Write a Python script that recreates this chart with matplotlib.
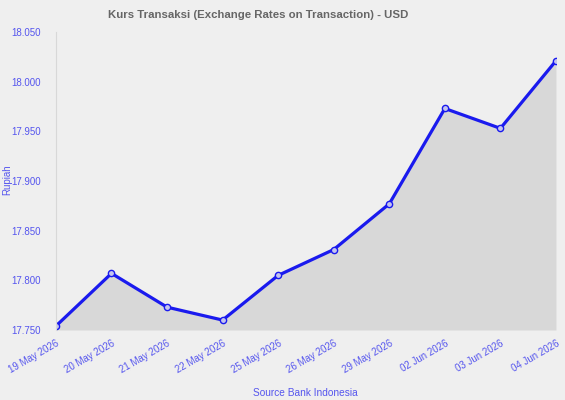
import numpy as np
import matplotlib.pyplot as plt
from matplotlib.ticker import FuncFormatter

plt.rcParams['font.family'] = ['Liberation Sans', 'DejaVu Sans']

# data
dates = ['19 May 2026', '20 May 2026', '21 May 2026', '22 May 2026', '25 May 2026',
         '26 May 2026', '29 May 2026', '02 Jun 2026', '03 Jun 2026', '04 Jun 2026']
rates = [17754, 17807, 17773, 17760, 17805, 17831, 17877, 17973, 17953, 18021]
yticks = [17750, 17800, 17850, 17900, 17950, 18000, 18050]

bg = '#efefef'
blue = '#1a1aee'
label_blue = '#5555ee'

fig = plt.figure(figsize=(5.65, 4.0), dpi=100, facecolor=bg)
ax = fig.add_axes([0.099, 0.175, 0.885, 0.745], facecolor=bg)

x = np.arange(len(dates))
ax.fill_between(x, rates, 17750, color='#d8d8d8', lw=0)
ax.plot(x, rates, color=blue, lw=2.3, marker='o', ms=4.5,
        mfc='#c4c4ee', mec=blue, mew=1)

ax.set_xlim(0, len(dates) - 1)
ax.set_ylim(17750, 18050)
ax.set_yticks(yticks)
ax.yaxis.set_major_formatter(FuncFormatter(lambda v, p: f'{int(v):,}'.replace(',', '.')))
ax.set_xticks(x)
ax.set_xticklabels(dates, rotation=30, ha='right', rotation_mode='anchor')
ax.tick_params(axis='both', length=0, labelsize=7, labelcolor=label_blue)
ax.tick_params(axis='x', pad=6)
ax.tick_params(axis='y', pad=11)

for s in ['top', 'right', 'bottom']:
    ax.spines[s].set_visible(False)
ax.spines['left'].set_color('#d8d8d8')

fig.text(0.457, 0.962, 'Kurs Transaksi (Exchange Rates on Transaction) - USD',
         color='#666666', fontsize=8.2, fontweight='bold', ha='center', va='center')
fig.text(0.012, 0.55, 'Rupiah', rotation=90, color=label_blue, fontsize=7,
         ha='center', va='center')
fig.text(0.54, 0.017, 'Source Bank Indonesia', color=label_blue, fontsize=7.3,
         ha='center', va='center')

fig.savefig('out.png', dpi=100, facecolor=bg)
